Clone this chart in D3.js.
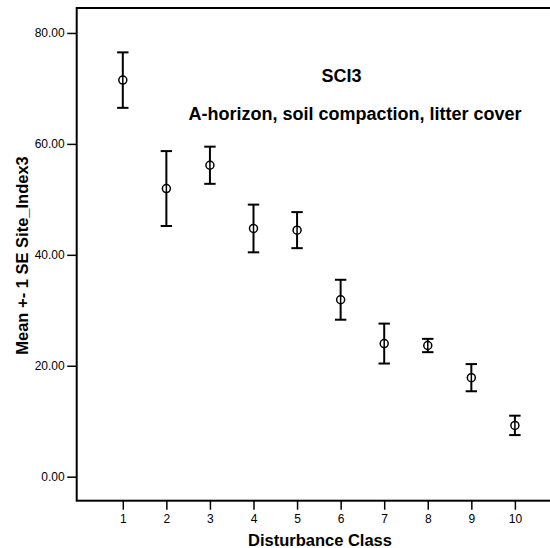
<!DOCTYPE html>
<html>
<head>
<meta charset="utf-8">
<script src="https://cdn.jsdelivr.net/npm/d3@7/dist/d3.min.js"></script>
<style>
  html, body { margin: 0; padding: 0; background: #fff; }
  svg { display: block; }
  text { font-family: Arial, "Liberation Sans", sans-serif; fill: #000; }
</style>
</head>
<body>
<svg id="chart" width="550" height="548"></svg>
<script>
// Disturbance classes and the mean (± 1 SE) of Site_Index3 for each
const classes = [1, 2, 3, 4, 5, 6, 7, 8, 9, 10];
const means   = [71.5, 51.95, 56.15, 44.75, 44.45, 31.9, 24.0, 23.65, 17.85, 9.25];
const stdErr  = [5.0, 6.75, 3.35, 4.3, 3.25, 3.6, 3.6, 1.2, 2.45, 1.75];
const yTicks  = [0, 20, 40, 60, 80];

const titleText    = "SCI3";
const subtitleText = "A-horizon, soil compaction, litter cover";
const xLabel       = "Disturbance Class";
const yLabel       = "Mean +- 1 SE Site_Index3";

const svg = d3.select("#chart");

// Plot frame (right side runs past the canvas edge)
const frame = { left: 76.7, top: 8, right: 570, bottom: 500.7 };

const x = d3.scaleLinear().domain([1, 10]).range([122.8, 514.9]);
const y = d3.scaleLinear().domain([-4.33, 84.5]).range([frame.bottom, frame.top]);

// Y axis
const yAxis = svg.append("g")
  .attr("transform", `translate(${frame.left},0)`)
  .call(d3.axisLeft(y).tickValues(yTicks).tickFormat(d3.format(".2f"))
        .tickSize(9.5).tickPadding(2.5));
yAxis.select(".domain").remove();
yAxis.selectAll(".tick line").attr("stroke", "#000").attr("stroke-width", 1.5);
yAxis.selectAll(".tick text").style("font-size", "12px").attr("fill", "#000");

// X axis
const xAxis = svg.append("g")
  .attr("transform", `translate(0,${frame.bottom})`)
  .call(d3.axisBottom(x).tickValues(classes).tickFormat(d3.format("d"))
        .tickSize(9).tickPadding(5));
xAxis.select(".domain").remove();
xAxis.selectAll(".tick line").attr("stroke", "#000").attr("stroke-width", 1.5);
xAxis.selectAll(".tick text").style("font-size", "12px").attr("fill", "#000");

// Frame
svg.append("rect")
  .attr("x", frame.left).attr("y", frame.top)
  .attr("width", frame.right - frame.left).attr("height", frame.bottom - frame.top)
  .attr("fill", "none").attr("stroke", "#000").attr("stroke-width", 2);

// Error bars
const rows = classes.map((c, i) => ({ c, m: means[i], se: stdErr[i] }));
const capHalf = 5.7;
const bars = svg.append("g").attr("stroke", "#000").attr("stroke-width", 2).attr("fill", "none");
bars.selectAll("line.stem").data(rows).join("line").attr("class", "stem")
  .attr("x1", d => x(d.c)).attr("x2", d => x(d.c))
  .attr("y1", d => y(d.m + d.se)).attr("y2", d => y(d.m - d.se));
bars.selectAll("line.capTop").data(rows).join("line").attr("class", "capTop")
  .attr("x1", d => x(d.c) - capHalf).attr("x2", d => x(d.c) + capHalf)
  .attr("y1", d => y(d.m + d.se)).attr("y2", d => y(d.m + d.se));
bars.selectAll("line.capBot").data(rows).join("line").attr("class", "capBot")
  .attr("x1", d => x(d.c) - capHalf).attr("x2", d => x(d.c) + capHalf)
  .attr("y1", d => y(d.m - d.se)).attr("y2", d => y(d.m - d.se));

// Mean markers
svg.append("g").selectAll("circle").data(rows).join("circle")
  .attr("cx", d => x(d.c)).attr("cy", d => y(d.m)).attr("r", 4)
  .attr("fill", "#fff").attr("stroke", "#000").attr("stroke-width", 1.5);
// stem passes through the marker
svg.append("g").selectAll("line").data(rows).join("line")
  .attr("x1", d => x(d.c)).attr("x2", d => x(d.c))
  .attr("y1", d => y(d.m) - 4).attr("y2", d => y(d.m) + 4)
  .attr("stroke", "#000").attr("stroke-width", 1.5);

// Titles
svg.append("text").attr("x", 341.5).attr("y", 82).attr("text-anchor", "middle")
  .style("font-size", "18px").style("font-weight", "bold").text(titleText);
svg.append("text").attr("x", 355).attr("y", 120).attr("text-anchor", "middle")
  .style("font-size", "18px").style("font-weight", "bold").text(subtitleText);

// Axis titles
svg.append("text").attr("x", 320).attr("y", 546).attr("text-anchor", "middle")
  .style("font-size", "16.5px").style("font-weight", "bold").text(xLabel);
svg.append("text").attr("transform", "translate(28.3,255.5) rotate(-90)")
  .attr("text-anchor", "middle")
  .style("font-size", "16.5px").style("font-weight", "bold").text(yLabel);
</script>
</body>
</html>
